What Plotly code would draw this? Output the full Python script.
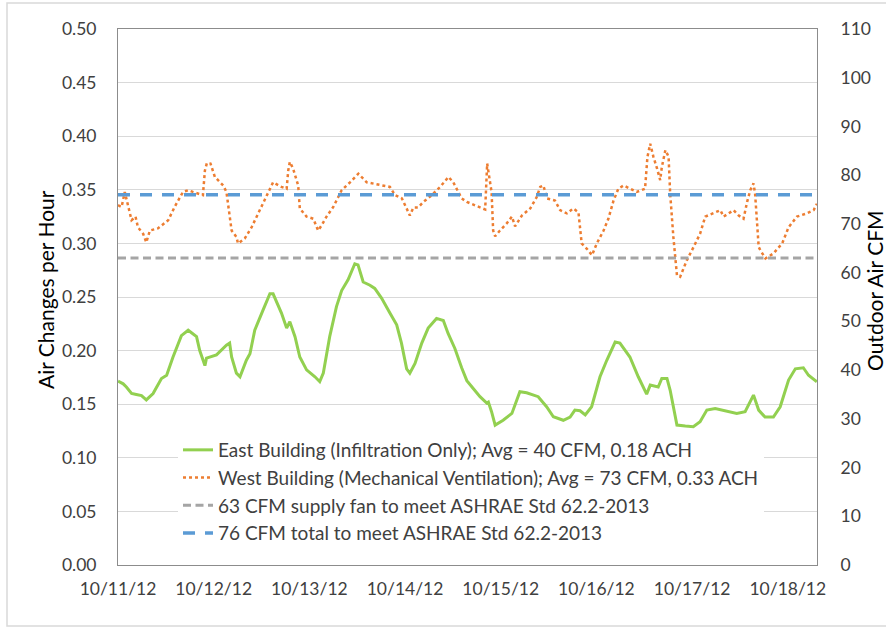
import pandas as pd
import plotly.graph_objects as go

# Hours since 10/11/12 00:00 and air changes per hour
east_hours = [0.0, 1.3, 2.1, 3.4, 4.6, 5.9, 7.1, 8.8, 10.9, 12.2, 13.8, 15.9, 17.6, 19.7, 20.5, 21.8, 22.2,
              24.7, 27.2, 28.0, 28.5, 29.7, 30.6, 32.2, 33.1, 34.3, 36.4, 38.1, 38.9, 41.0, 42.3, 43.1, 44.4,
              45.6, 47.3, 49.4, 50.6, 51.5, 53.1, 54.8, 56.1, 57.7, 59.4, 60.2, 61.5, 63.2, 64.4, 66.1, 68.2,
              69.9, 71.1, 72.4, 73.2, 74.5, 76.2, 77.8, 79.9, 81.6, 82.8, 84.5, 86.2, 87.5, 89.1, 90.8, 92.5,
              92.9, 93.7, 94.6, 96.6, 98.8, 100.8, 102.5, 105.4, 107.5, 109.2, 111.7, 113.4, 114.6, 115.9,
              117.2, 118.8, 120.9, 122.6, 124.7, 125.9, 128.4, 130.5, 132.6, 133.5, 135.5, 136.4, 137.7,
              138.5, 139.7, 140.2, 142.3, 144.3, 146.0, 147.7, 149.8, 152.7, 155.2, 157.3, 159.4, 160.7,
              162.3, 164.4, 166.1, 168.2, 169.9, 171.9, 173.2, 175.3]
east_ach = [0.1715, 0.169, 0.166, 0.160, 0.159, 0.158, 0.154, 0.160, 0.174, 0.177, 0.194, 0.214, 0.219, 0.213,
            0.200, 0.186, 0.193, 0.196, 0.205, 0.207, 0.194, 0.179, 0.1756, 0.191, 0.197, 0.219, 0.238, 0.253,
            0.253, 0.235, 0.221, 0.227, 0.213, 0.194, 0.182, 0.1756, 0.171, 0.179, 0.213, 0.241, 0.256, 0.266,
            0.281, 0.280, 0.264, 0.261, 0.258, 0.249, 0.235, 0.224, 0.207, 0.183, 0.179, 0.188, 0.207, 0.221,
            0.230, 0.228, 0.216, 0.202, 0.184, 0.172, 0.1647, 0.157, 0.151, 0.152, 0.143, 0.1305, 0.135,
            0.1414, 0.1616, 0.1607, 0.157, 0.1476, 0.1383, 0.135, 0.138, 0.1445, 0.1439, 0.140, 0.1476,
            0.1756, 0.191, 0.208, 0.207, 0.194, 0.1756, 0.1594, 0.1678, 0.166, 0.174, 0.174, 0.163, 0.1414,
            0.1305, 0.1296, 0.129, 0.1336, 0.1445, 0.146, 0.1439, 0.1414, 0.143, 0.1585, 0.1445, 0.138,
            0.138, 0.1476, 0.1725, 0.183, 0.184, 0.177, 0.171]

west_hours = [0.0, 0.9, 1.7, 2.5, 3.4, 4.4, 5.0, 6.3, 7.1, 8.0, 10.0, 12.6, 14.2, 16.3, 17.6, 18.8, 21.3, 21.8,
              22.3, 23.2, 24.3, 26.4, 27.2, 28.5, 29.7, 30.1, 31.8, 33.5, 35.6, 37.7, 38.9, 41.0, 42.3, 42.7,
              43.1, 43.9, 45.2, 45.6, 47.3, 49.0, 50.2, 51.1, 52.3, 54.0, 56.1, 58.2, 60.3, 62.4, 64.0, 66.1,
              68.2, 69.5, 71.2, 72.4, 73.2, 74.1, 75.3, 76.6, 78.7, 80.8, 82.9, 84.1, 86.2, 87.5, 89.6, 92.1,
              92.6, 93.3, 93.7, 94.1, 94.6, 95.8, 97.5, 98.8, 99.6, 101.3, 103.4, 105.0, 105.9, 106.7, 107.6,
              109.6, 110.9, 112.6, 114.2, 115.5, 116.3, 117.6, 118.9, 120.1, 121.8, 123.0, 124.3, 125.5, 126.8,
              128.5, 130.1, 132.2, 132.8, 133.5, 134.3, 135.2, 136.0, 136.4, 137.3, 138.1, 138.5, 139.3, 140.2,
              141.0, 142.7, 144.4, 146.0, 147.3, 149.4, 151.1, 151.9, 154.4, 155.7, 156.9, 157.8, 158.6, 159.4,
              159.8, 160.7, 161.1, 162.4, 164.4, 166.6, 168.2, 170.3, 172.8, 174.5, 175.3]
west_ach = [0.3356, 0.334, 0.348, 0.334, 0.3216, 0.325, 0.315, 0.309, 0.301, 0.312, 0.314, 0.3216, 0.334, 0.348,
            0.3496, 0.348, 0.345, 0.368, 0.375, 0.3745, 0.362, 0.354, 0.348, 0.312, 0.306, 0.300, 0.3046, 0.315,
            0.331, 0.348, 0.357, 0.3527, 0.351, 0.368, 0.376, 0.370, 0.354, 0.3326, 0.325, 0.323, 0.312, 0.317,
            0.325, 0.334, 0.3496, 0.357, 0.365, 0.357, 0.356, 0.354, 0.3527, 0.345, 0.342, 0.3326, 0.326,
            0.3335, 0.3335, 0.3387, 0.345, 0.3527, 0.362, 0.357, 0.342, 0.3387, 0.3356, 0.3316, 0.3745, 0.356,
            0.348, 0.312, 0.3067, 0.312, 0.3186, 0.325, 0.316, 0.326, 0.3326, 0.343, 0.3527, 0.354, 0.342,
            0.340, 0.331, 0.328, 0.3326, 0.329, 0.300, 0.295, 0.289, 0.300, 0.312, 0.323, 0.340, 0.351, 0.354,
            0.351, 0.348, 0.351, 0.3807, 0.393, 0.3807, 0.370, 0.359, 0.371, 0.387, 0.381, 0.3465, 0.306,
            0.2704, 0.2688, 0.2844, 0.2968, 0.309, 0.325, 0.328, 0.331, 0.325, 0.331, 0.326, 0.323, 0.3387,
            0.3496, 0.356, 0.3465, 0.2968, 0.2937, 0.286, 0.2906, 0.300, 0.315, 0.325, 0.328, 0.331, 0.337]

supply_fan_cfm = 63
total_cfm = 76
span_hours = 175.33

tick_days = ["2012-10-11", "2012-10-12", "2012-10-13", "2012-10-14",
             "2012-10-15", "2012-10-16", "2012-10-17", "2012-10-18"]
tick_labels = ["10/11/12", "10/12/12", "10/13/12", "10/14/12",
               "10/15/12", "10/16/12", "10/17/12", "10/18/12"]

legend_names = [
    "East Building (Infiltration Only); Avg = 40 CFM, 0.18 ACH",
    "West Building (Mechanical Ventilation); Avg = 73 CFM, 0.33 ACH",
    "63 CFM supply fan to meet ASHRAE Std 62.2-2013",
    "76 CFM total to meet ASHRAE Std 62.2-2013",
]

start = pd.Timestamp("2012-10-11")
east_x = [start + pd.Timedelta(hours=h) for h in east_hours]
west_x = [start + pd.Timedelta(hours=h) for h in west_hours]
x_end = start + pd.Timedelta(hours=span_hours)

FONT = "Lato"
fig = go.Figure()
fig.add_trace(go.Scatter(x=east_x, y=east_ach, mode="lines", name=legend_names[0],
                         line=dict(color="#92d050", width=3), legendgroup="a"))
fig.add_trace(go.Scatter(x=west_x, y=west_ach, mode="lines", name=legend_names[1],
                         line=dict(color="#ed7d31", width=2.5, dash="dot"), legendgroup="b"))
fig.add_trace(go.Scatter(x=[start, x_end], y=[supply_fan_cfm, supply_fan_cfm], mode="lines",
                         name=legend_names[2], yaxis="y2",
                         line=dict(color="#a5a5a5", width=3, dash="8px,4.5px"), legendgroup="c"))
fig.add_trace(go.Scatter(x=[start, x_end], y=[total_cfm, total_cfm], mode="lines",
                         name=legend_names[3], yaxis="y2",
                         line=dict(color="#5b9bd5", width=3.5, dash="12px,10px"), legendgroup="d"))

W, H = 886, 627
L, R, T, B = 118, 69, 29, 62
pw, ph = W - L - R, H - T - B

def px(xp):
    return (xp - L) / pw

def py(yp):
    return (H - B - yp) / ph

axis_color = "#8c8c8c"
grid_color = "#d9d9d9"
tick_font = dict(family=FONT, size=17.5, color="#404040")

fig.update_layout(
    width=W, height=H,
    margin=dict(l=L, r=R, t=T, b=B),
    paper_bgcolor="white", plot_bgcolor="white",
    font=dict(family=FONT, color="#404040"),
    showlegend=True,
    legend=dict(x=px(178), y=py(431), xanchor="left", yanchor="top",
                bgcolor="white", font=dict(family=FONT, size=19.0, color="#404040"),
                tracegroupgap=0, itemwidth=30),
    xaxis=dict(type="date", range=[start, x_end], tickvals=tick_days, ticktext=tick_labels,
               showgrid=False, showline=True, linecolor=axis_color, linewidth=1, mirror=True,
               ticks="", tickfont=tick_font, ticklabelstandoff=8, zeroline=False),
    yaxis=dict(range=[0, 0.5], dtick=0.05, tickformat=".2f", showgrid=True, gridcolor=grid_color,
               gridwidth=1, showline=True, linecolor=axis_color, linewidth=1, mirror=True,
               ticks="", tickfont=tick_font, ticklabelstandoff=17, zeroline=False),
    yaxis2=dict(range=[0, 110], dtick=10, overlaying="y", side="right", showgrid=False,
                showline=True, linecolor=axis_color, linewidth=1, ticks="",
                tickfont=tick_font, ticklabelstandoff=19, zeroline=False),
    annotations=[
        dict(text="Air Changes per Hour", x=px(45), y=py(290), xref="paper", yref="paper",
             xanchor="center", yanchor="middle",
             textangle=-90, showarrow=False, font=dict(family=FONT, size=21, color="#000000")),
        dict(text="Outdoor Air CFM", x=px(874), y=py(291), xref="paper", yref="paper",
             xanchor="center", yanchor="middle",
             textangle=-90, showarrow=False, font=dict(family=FONT, size=21, color="#000000")),
    ],
    shapes=[
        dict(type="rect", xref="paper", yref="paper", x0=px(7), x1=px(895), y0=py(626), y1=py(3),
             line=dict(color="#d9d9d9", width=1.5), layer="below"),
    ],
)

fig.write_html("out.html", config={"displayModeBar": False},
               post_script="document.body.style.margin='0';document.body.style.overflow='hidden';")
